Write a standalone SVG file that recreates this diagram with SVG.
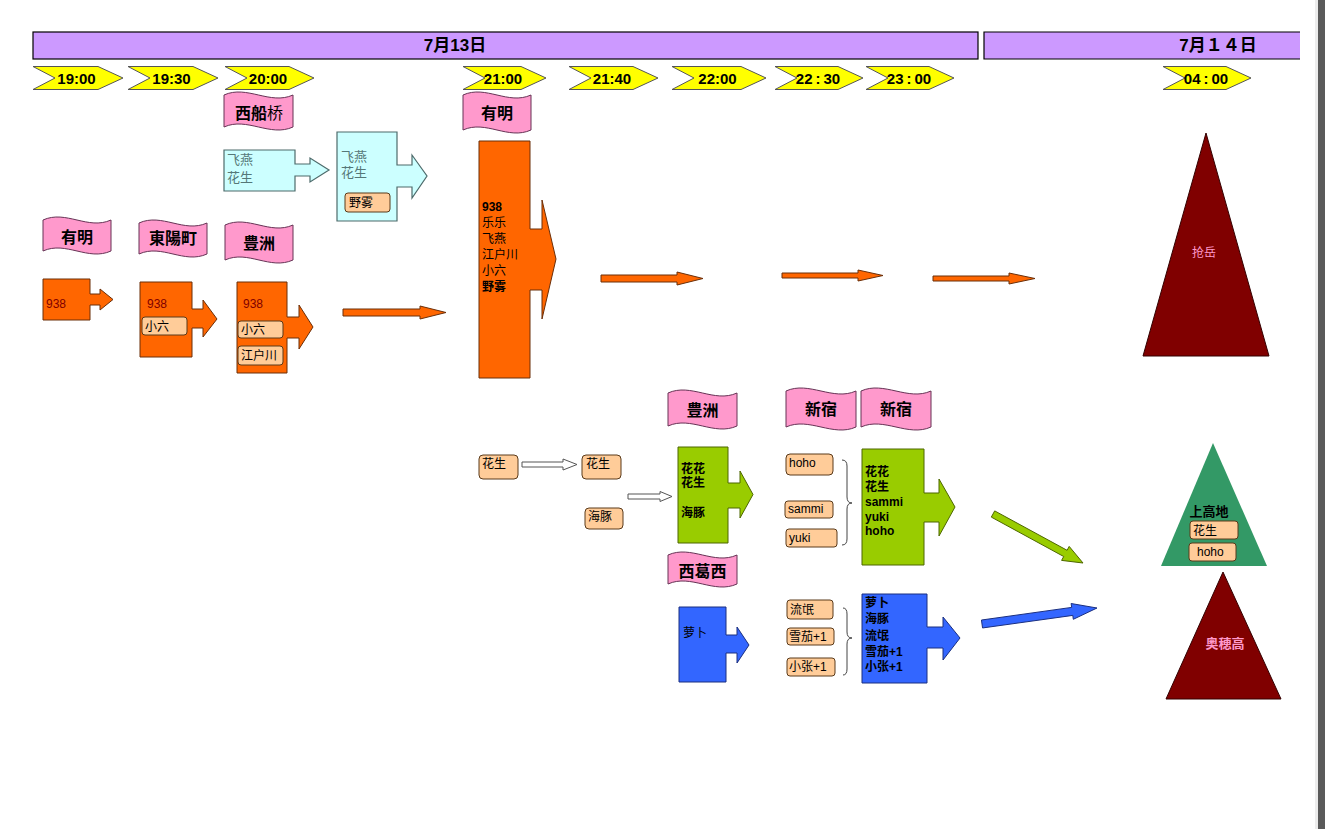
<svg xmlns="http://www.w3.org/2000/svg" width="1325" height="829" viewBox="0 0 1325 829">
<style>
text{font-family:"Liberation Sans","Noto Sans CJK SC",sans-serif;fill:#000}
.hdr{fill:#CC99FF;stroke:#000;stroke-width:1.2}
.hdrt{font-size:17px;font-weight:bold;text-anchor:middle}
.time{fill:#FFFF00;stroke:#555;stroke-width:1}
.timet{font-size:15px;font-weight:bold;text-anchor:middle}
.flag{fill:#FF99CC;stroke:#663355;stroke-width:1}
.flagt{font-size:16px;font-weight:bold;text-anchor:middle}
.orange{fill:#FF6600;stroke:#6b2e08;stroke-width:1}
.cyan{fill:#CCFFFF;stroke:#4d6b6b;stroke-width:1.2}
.green{fill:#99CC00;stroke:#4d6600;stroke-width:1}
.blue{fill:#3366FF;stroke:#1a2f80;stroke-width:1}
.tag{fill:#FFCC99;stroke:#5a3a1a;stroke-width:1}
.tagt{font-size:12px}
.hollow{fill:#fff;stroke:#555;stroke-width:1}
.brace{fill:none;stroke:#444;stroke-width:1}
.maroon{fill:#800000;stroke:#330000;stroke-width:1}
.teal{fill:#339966}
.n938{font-size:12px;fill:#800000}
.cyt{font-size:13px;fill:#557777}
.bt{font-size:12px;font-weight:bold}
.mt{font-size:12px}
</style>
<rect x="0" y="0" width="1325" height="829" fill="#fff"/>
<rect x="1315" y="0" width="3" height="829" fill="#ececec"/>
<rect x="1318" y="0" width="7" height="829" fill="#5a5a5a"/>

<g id="header">
  <rect class="hdr" x="33" y="32" width="945" height="27"/>
  <text class="hdrt" x="455" y="51">7月13日</text>
  <rect x="984" y="32" width="316" height="27" fill="#CC99FF"/>
  <path d="M1300,32 H984 V59 H1300" fill="none" stroke="#000" stroke-width="1.2"/>
  <text class="hdrt" x="1218" y="51">7月１４日</text>
</g>

<g id="times">
  <g id="t1900"><polygon class="time" points="33,66.5 98,66.5 123,78 98,89.5 33,89.5 55,78"/><text class="timet" x="76.5" y="83.5">19:00</text></g>
  <g id="t1930"><polygon class="time" points="128,66.5 193,66.5 218,78 193,89.5 128,89.5 150,78"/><text class="timet" x="171.5" y="83.5">19:30</text></g>
  <g id="t2000"><polygon class="time" points="225,66.5 289,66.5 314,78 289,89.5 225,89.5 247,78"/><text class="timet" x="268" y="83.5">20:00</text></g>
  <g id="t2100"><polygon class="time" points="463,66.5 521,66.5 546,78 521,89.5 463,89.5 485,78"/><text class="timet" x="503" y="83.5">21:00</text></g>
  <g id="t2140"><polygon class="time" points="569,66.5 633,66.5 658,78 633,89.5 569,89.5 591,78"/><text class="timet" x="612" y="83.5">21:40</text></g>
  <g id="t2200"><polygon class="time" points="672,66.5 741,66.5 766,78 741,89.5 672,89.5 694,78"/><text class="timet" x="717.5" y="83.5">22:00</text></g>
  <g id="t2230"><polygon class="time" points="775,66.5 838,66.5 863,78 838,89.5 775,89.5 797,78"/><text class="timet" x="818" y="83.5">22<tspan dx="3">:</tspan><tspan dx="3">30</tspan></text></g>
  <g id="t2300"><polygon class="time" points="866,66.5 929,66.5 954,78 929,89.5 866,89.5 888,78"/><text class="timet" x="909" y="83.5">23<tspan dx="3">:</tspan><tspan dx="3">00</tspan></text></g>
  <g id="t0400"><polygon class="time" points="1163,66.5 1226,66.5 1251,78 1226,89.5 1163,89.5 1185,78"/><text class="timet" x="1206" y="83.5">04<tspan dx="3">:</tspan><tspan dx="3">00</tspan></text></g>
</g>

<g id="flags">
  <g id="f-nishifunabashi"><path class="flag" d="M224,95 C247,84.6 270,105.4 293,95 V127 C270,137.4 247,116.6 224,127 Z"/><text class="flagt" x="259" y="119">西船<tspan font-weight="normal">桥</tspan></text></g>
  <g id="f-ariake1"><path class="flag" d="M43,220 C66,209.6 88,230.4 111,220 V251 C88,261.4 66,240.6 43,251 Z"/><text class="flagt" x="77" y="243">有明</text></g>
  <g id="f-toyocho"><path class="flag" d="M139,223 C162,212.6 184,233.4 207,223 V254 C184,264.4 162,243.6 139,254 Z"/><text class="flagt" x="173" y="244">東陽町</text></g>
  <g id="f-toyosu1"><path class="flag" d="M225,225 C248,214.6 270,235.4 293,225 V260 C270,270.4 248,249.6 225,260 Z"/><text class="flagt" x="259" y="249">豊洲</text></g>
  <g id="f-ariake2"><path class="flag" d="M463,95 C486,84.6 508,105.4 531,95 V130 C508,140.4 486,119.6 463,130 Z"/><text class="flagt" x="497" y="119">有明</text></g>
  <g id="f-toyosu2"><path class="flag" d="M668,393 C691,382.6 714,403.4 737,393 V426 C714,436.4 691,415.6 668,426 Z"/><text class="flagt" x="702.5" y="416">豊洲</text></g>
  <g id="f-nishikasai"><path class="flag" d="M668,555 C691,544.6 714,565.4 737,555 V584 C714,594.4 691,573.6 668,584 Z"/><text class="flagt" x="702.5" y="577">西葛西</text></g>
  <g id="f-shinjuku1"><path class="flag" d="M786,391 C809,380.6 833,401.4 856,391 V427 C833,437.4 809,416.6 786,427 Z"/><text class="flagt" x="821" y="415">新宿</text></g>
  <g id="f-shinjuku2"><path class="flag" d="M861,391 C884,380.6 908,401.4 931,391 V427 C908,437.4 884,416.6 861,427 Z"/><text class="flagt" x="896" y="415">新宿</text></g>
</g>

<g id="connectors">
  <polygon id="c-or0" class="orange" points="343,309 420,309 420,306 446,312.5 420,319 420,316 343,316"/>
  <polygon id="c-or1" class="orange" points="601,275 677,275 677,272 703,278.5 677,285 677,282 601,282"/>
  <polygon id="c-or2" class="orange" points="782,273 858,273 858,270 883,275.5 858,281 858,278 782,278"/>
  <polygon id="c-or3" class="orange" points="933,276 1009,276 1009,273 1035,278.5 1009,284 1009,281 933,281"/>
  <polygon id="c-h1" class="hollow" points="522,462 563,462 563,459 577,464.5 563,470 563,467 522,467"/>
  <polygon id="c-h2" class="hollow" points="628,494 660,494 660,491.5 672,496.5 660,501.5 660,499 628,499"/>
  <polygon id="c-green" class="green" points="994.7,510.9 1067.1,550.3 1069.2,546.4 1083,563 1061.6,560.4 1063.7,556.5 991.3,517.1"/>
  <polygon id="c-blue" class="blue" points="981.45,620.04 1071.7,607.4 1071.1,603.5 1097,608 1073.3,619.3 1072.8,615.4 982.55,627.96"/>
  <path id="c-brace1" class="brace" d="M842,460 Q847,460 847,466 V497 Q847,503 852,503 Q847,503 847,509 V539 Q847,545 842,545"/>
  <path id="c-brace2" class="brace" d="M843,608 Q847,608 847,614 V632 Q847,638 852,638 Q847,638 847,644 V669 Q847,675 843,675"/>
</g>

<g id="n-938a">
  <path class="orange" d="M43,279 H90 V294 H100 V289 L113,299.5 L100,310 V305 H90 V320 H43 Z"/>
  <text class="n938" x="46" y="308">938</text>
</g>
<g id="n-938b">
  <path class="orange" d="M140,282 H192 V309 H203 V300 L217,319 L203,337 V328 H192 V357 H140 Z"/>
  <text class="n938" x="147" y="308">938</text>
  <rect class="tag" x="142" y="317" width="45" height="18" rx="3"/>
  <text class="tagt" x="145" y="331">小六</text>
</g>
<g id="n-938c">
  <path class="orange" d="M237,282 H287 V317 H299 V305 L313,327 L299,349 V338 H287 V373 H237 Z"/>
  <text class="n938" x="243" y="308">938</text>
  <rect class="tag" x="238" y="321" width="45" height="17" rx="3"/>
  <text class="tagt" x="241" y="334">小六</text>
  <rect class="tag" x="238" y="346" width="45" height="19" rx="3"/>
  <text class="tagt" x="241" y="360">江户川</text>
</g>
<g id="n-cyan1">
  <path class="cyan" d="M224,150 H295 V164 H310 V158 L329,170 L310,182 V176 H295 V191 H224 Z"/>
  <text class="cyt" x="227" y="164">飞燕</text>
  <text class="cyt" x="227" y="182">花生</text>
</g>
<g id="n-cyan2">
  <path class="cyan" d="M337,132 H397 V165 H412 V155 L427,176 L412,198 V187 H397 V221 H337 Z"/>
  <text class="cyt" x="341" y="161">飞燕</text>
  <text class="cyt" x="341" y="177">花生</text>
  <rect class="tag" x="345" y="193" width="45" height="19" rx="3"/>
  <text class="tagt" x="349" y="207">野雾</text>
</g>
<g id="n-ariake-big">
  <path class="orange" d="M479,141 H530 V229 H542 V200 L556,259 L542,319 V290 H530 V378 H479 Z"/>
  <text class="bt" x="482" y="211">938</text>
  <text class="mt" x="482" y="227">乐乐</text>
  <text class="mt" x="482" y="243">飞燕</text>
  <text class="mt" x="482" y="259">江户川</text>
  <text class="mt" x="482" y="275">小六</text>
  <text class="bt" x="482" y="291">野雾</text>
</g>

<g id="n-tag-huasheng1"><rect class="tag" x="479" y="455" width="39" height="24" rx="4"/><text class="tagt" x="482" y="468">花生</text></g>
<g id="n-tag-huasheng2"><rect class="tag" x="582" y="455" width="39" height="24" rx="4"/><text class="tagt" x="586" y="468">花生</text></g>
<g id="n-tag-haitun"><rect class="tag" x="585" y="508" width="38" height="21" rx="4"/><text class="tagt" x="588" y="521">海豚</text></g>

<g id="n-green1">
  <path class="green" d="M678,447 H728 V483 H740 V471 L753,494.5 L740,518 V508 H728 V543 H678 Z"/>
  <text class="bt" x="681" y="473">花花</text>
  <text class="bt" x="681" y="487">花生</text>
  <text class="bt" x="681" y="517">海豚</text>
</g>
<g id="n-blue1">
  <path class="blue" d="M679,607 H726 V635 H737 V627 L749,645 L737,663 V653 H726 V682 H679 Z"/>
  <text class="mt" x="683" y="637">萝卜</text>
</g>

<g id="n-tag-hoho"><rect class="tag" x="786" y="454" width="47" height="21" rx="4"/><text class="tagt" x="789" y="467">hoho</text></g>
<g id="n-tag-sammi"><rect class="tag" x="785" y="501" width="48" height="17" rx="3"/><text class="tagt" x="788" y="513">sammi</text></g>
<g id="n-tag-yuki"><rect class="tag" x="786" y="529" width="51" height="18" rx="3"/><text class="tagt" x="789" y="542">yuki</text></g>
<g id="n-tag-liumang"><rect class="tag" x="787" y="600" width="46" height="19" rx="3"/><text class="tagt" x="790" y="614">流氓</text></g>
<g id="n-tag-xuejia"><rect class="tag" x="787" y="628" width="47" height="17" rx="3"/><text class="tagt" x="789" y="641">雪茄+1</text></g>
<g id="n-tag-xiaozhang"><rect class="tag" x="787" y="658" width="48" height="18" rx="3"/><text class="tagt" x="789" y="671">小张+1</text></g>

<g id="n-green2">
  <path class="green" d="M862,449 H924 V493 H939 V479 L955,507 L939,536 V522 H924 V565 H862 Z"/>
  <text class="bt" x="865" y="476">花花</text>
  <text class="bt" x="865" y="491">花生</text>
  <text class="bt" x="865" y="506">sammi</text>
  <text class="bt" x="865" y="521">yuki</text>
  <text class="bt" x="865" y="535">hoho</text>
</g>
<g id="n-blue2">
  <path class="blue" d="M862,594 H927 V627 H943 V617 L960,638 L943,660 V648 H927 V683 H862 Z"/>
  <text class="bt" x="865" y="607">萝卜</text>
  <text class="bt" x="865" y="623">海豚</text>
  <text class="bt" x="865" y="640">流氓</text>
  <text class="bt" x="865" y="656">雪茄+1</text>
  <text class="bt" x="865" y="671">小张+1</text>
</g>

<g id="n-qiangyue">
  <polygon class="maroon" points="1206,133 1269,356 1143,356"/>
  <text x="1204" y="257" font-size="12" style="fill:#FF99CC" text-anchor="middle">抢岳</text>
</g>
<g id="n-kamikochi">
  <polygon class="teal" points="1213,443 1267,566 1161,566"/>
  <text x="1209" y="516" font-size="13" font-weight="bold" text-anchor="middle">上高地</text>
  <rect class="tag" x="1190" y="521" width="48" height="18" rx="3"/>
  <text class="tagt" x="1193" y="535">花生</text>
  <rect class="tag" x="1189" y="543" width="47" height="18" rx="3"/>
  <text class="tagt" x="1197" y="556">hoho</text>
</g>
<g id="n-hotaka">
  <polygon class="maroon" points="1223,572 1281,699 1166,699"/>
  <text x="1225" y="648" font-size="13" font-weight="bold" style="fill:#FF99CC" text-anchor="middle">奥穂高</text>
</g>
</svg>
